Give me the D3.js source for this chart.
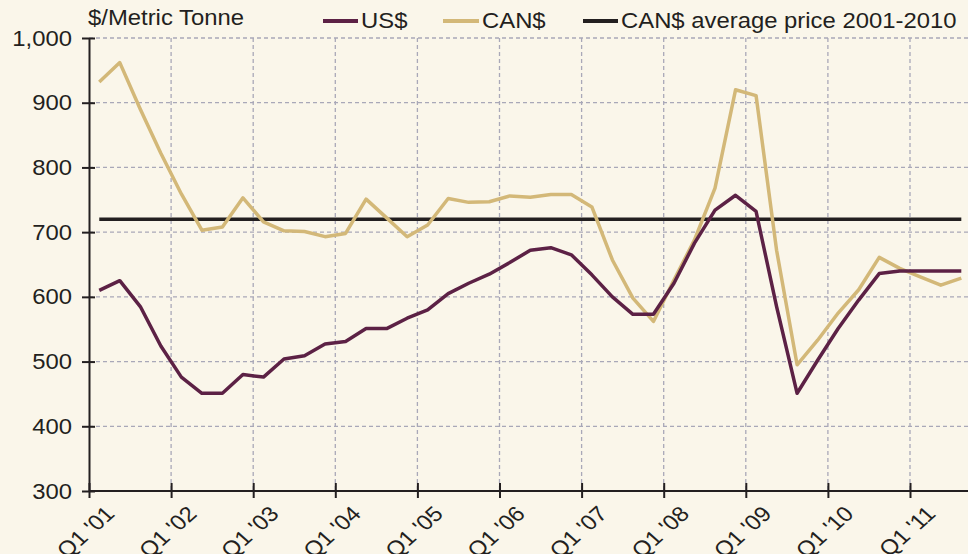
<!DOCTYPE html>
<html>
<head>
<meta charset="utf-8">
<script src="https://cdn.jsdelivr.net/npm/d3@7"></script>
<style>
  html, body { margin: 0; padding: 0; background: #FAF6EA; }
  svg { display: block; }
  text { font-family: "Liberation Sans", Arial, sans-serif; fill: #231F20; }
</style>
</head>
<body>
<svg id="chart" width="968" height="554"></svg>
<script>
// quarters Q1 '01 .. Q3 '11
var years = ["01","02","03","04","05","06","07","08","09","10","11"];
var quarters = [];
years.forEach(function(yr) {
    for (var q = 1; q <= 4; q++) quarters.push("Q" + q + " '" + yr);
});
quarters = quarters.slice(0, 43);

var tickLabels = ["Q1 '01","Q1 '02","Q1 '03","Q1 '04","Q1 '05","Q1 '06","Q1 '07","Q1 '08","Q1 '09","Q1 '10","Q1 '11"];
var yTicks = [300, 400, 500, 600, 700, 800, 900, 1000];

var usd = [610,625,585,524,476,451,451,480,476,504,509,527,531,551,551,567,580,605,621,635,653,672,676,665,634,600,573,573,621,683,734,757,732,585,451,502,551,595,636,640,640,640,640];
var cad = [932,962,890,822,759,703,708,753,716,702,701,693,698,751,722,693,711,752,746,747,756,754,758,758,739,657,598,562,626,688,768,920,911,672,495,533,575,611,661,644,631,618,629];
var cadAvg = quarters.map(function() { return 720; });

var svgContainer = d3.select("#chart");
var stretch = 1.12;   // text in the original is a bit wide

var plotLeft = 89, plotTop = 38, plotBottom = 491;
var step = 20.525;

var x = d3.scaleLinear().domain([0, quarters.length]).range([plotLeft, plotLeft + quarters.length * step]);
var y = d3.scaleLinear().domain([300, 1000]).range([plotBottom, plotTop]);

function drawText(px, py, text, anchor, size, rot) {
    var t = "translate(" + px + "," + py + ") scale(" + stretch + ",1)";
    if (rot) t += " rotate(" + rot + ")";
    svgContainer.append("text")
        .attr("transform", t)
        .attr("text-anchor", anchor)
        .style("font-size", size + "px")
        .text(text);
}

// grid
var grid = svgContainer.append("g")
    .attr("stroke", "#A9A8B8")
    .attr("stroke-width", 1.3)
    .attr("stroke-dasharray", "4,3");

grid.selectAll("line.h").data(yTicks.slice(1)).enter().append("line")
    .attr("x1", plotLeft).attr("x2", 968)
    .attr("y1", function(d) { return y(d); })
    .attr("y2", function(d) { return y(d); });

grid.selectAll("line.v").data(d3.range(4, quarters.length, 4)).enter().append("line")
    .attr("x1", function(d) { return x(d); })
    .attr("x2", function(d) { return x(d); })
    .attr("y1", plotTop).attr("y2", plotBottom);

// lines
var line = d3.line()
    .x(function(d, i) { return x(i + 0.5); })
    .y(function(d) { return y(d); });

svgContainer.append("path").datum(cadAvg)
    .attr("d", line).attr("fill", "none")
    .attr("stroke", "#231F20").attr("stroke-width", 3.6);

svgContainer.append("path").datum(cad)
    .attr("d", line).attr("fill", "none")
    .attr("stroke", "#D3B878").attr("stroke-width", 3.5)
    .attr("stroke-linejoin", "round");

svgContainer.append("path").datum(usd)
    .attr("d", line).attr("fill", "none")
    .attr("stroke", "#5C2145").attr("stroke-width", 3.5)
    .attr("stroke-linejoin", "round");

// axes
var yAxis = d3.axisLeft(y).tickValues(yTicks).tickSizeInner(7).tickSizeOuter(0).tickFormat("");
var gy = svgContainer.append("g").attr("transform", "translate(" + plotLeft + ",0)").call(yAxis);
gy.selectAll(".tick line").attr("x2", -7).attr("x1", 6);

var xAxis = d3.axisBottom(x).tickValues(d3.range(0, quarters.length, 4)).tickSizeInner(7).tickSizeOuter(0).tickFormat("");
var gx = svgContainer.append("g").attr("transform", "translate(0," + plotBottom + ")").call(xAxis);
gx.selectAll(".tick line").attr("y1", -8).attr("y2", 7);
gx.select(".domain").attr("d", "M" + plotLeft + ",0H968");

svgContainer.selectAll(".domain, .tick line").attr("stroke", "#231F20").attr("stroke-width", 2);

yTicks.forEach(function(v) {
    drawText(72, y(v) + 7.5, d3.format(",")(v), "end", 21.3);
});

tickLabels.forEach(function(lbl, k) {
    drawText(x(k * 4) + 27, 515, lbl, "end", 21.3, -45);
});

// title + legend
drawText(88, 25, "$/Metric Tonne", "start", 21.3);

var legend = [
    {name: "US$", color: "#5C2145", x1: 323, x2: 358},
    {name: "CAN$", color: "#D3B878", x1: 443, x2: 479},
    {name: "CAN$ average price 2001-2010", color: "#231F20", x1: 583, x2: 618}
];
legend.forEach(function(l) {
    svgContainer.append("line")
        .attr("x1", l.x1).attr("x2", l.x2)
        .attr("y1", 21).attr("y2", 21)
        .attr("stroke", l.color).attr("stroke-width", 3.8);
    drawText(l.x2 + 3, 28, l.name, "start", 21.3);
});
</script>
</body>
</html>
